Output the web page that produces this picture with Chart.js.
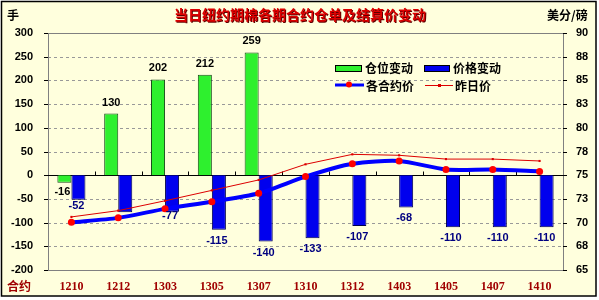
<!DOCTYPE html>
<html>
<head>
<meta charset="utf-8">
<script src="https://cdn.jsdelivr.net/npm/chart.js@4/dist/chart.umd.min.js"></script>
<style>
  body { margin: 0; background: #fff; }
</style>
</head>
<body>
<canvas id="c" width="599" height="300"></canvas>
<script>
const contracts = ['1210', '1212', '1303', '1305', '1307', '1310', '1312', '1403', '1405', '1407', '1410'];
const positionChange = [-16, 130, 202, 212, 259, null, null, null, null, null, null];
const priceChange = [-52, -78, -77, -115, -140, -133, -107, -68, -110, -110, -110];
const contractPrice = [70.03, 70.5, 71.45, 72.2, 73.1, 74.85, 76.2, 76.5, 75.6, 75.6, 75.4];
const prevPrice = [70.6, 71.26, 72.3, 73.4, 74.5, 76.15, 77.2, 77.1, 76.7, 76.7, 76.5];

const BG = '#FFFFDD';
const CJK = '"Noto Sans CJK SC", sans-serif';

// background, frame, grid, zero line
const framePlugin = {
  id: 'frame',
  beforeDraw(chart) {
    const ctx = chart.ctx;
    const a = chart.chartArea;
    ctx.save();
    ctx.fillStyle = '#fff';
    ctx.fillRect(0, 0, chart.width, chart.height);
    ctx.fillStyle = BG;
    ctx.fillRect(1, 1, 595, 295);
    ctx.strokeStyle = '#000';
    ctx.lineWidth = 1.5;
    ctx.strokeRect(1.5, 1.5, 594.5, 294.5);

    const y = chart.scales.y;
    ctx.strokeStyle = '#999';
    ctx.lineWidth = 1;
    ctx.setLineDash([3, 3]);
    y.ticks.forEach((t) => {
      if (t.value === 300 || t.value === -200 || t.value === 0) return;
      const py = Math.round(y.getPixelForValue(t.value)) + 0.5;
      ctx.beginPath();
      ctx.moveTo(a.left, py);
      ctx.lineTo(a.right, py);
      ctx.stroke();
    });
    ctx.setLineDash([]);
    ctx.strokeStyle = '#808080';
    ctx.strokeRect(Math.round(a.left) + 0.5, Math.round(a.top) + 0.5, Math.round(a.right - a.left), Math.round(a.bottom - a.top));

    // outer tick marks
    ctx.strokeStyle = '#000';
    y.ticks.forEach((t) => {
      const py = Math.round(y.getPixelForValue(t.value)) + 0.5;
      ctx.beginPath();
      ctx.moveTo(a.left - 4, py);
      ctx.lineTo(a.left, py);
      ctx.stroke();
    });
    const y1 = chart.scales.y1;
    y1.ticks.forEach((t) => {
      const py = Math.round(y1.getPixelForValue(t.value)) + 0.5;
      ctx.beginPath();
      ctx.moveTo(a.right, py);
      ctx.lineTo(a.right + 4, py);
      ctx.stroke();
    });
    ctx.restore();
  },
  beforeDatasetsDraw(chart) {
    const ctx = chart.ctx;
    const a = chart.chartArea;
    const y0 = Math.round(chart.scales.y.getPixelForValue(0)) + 0.5;
    const step = (a.right - a.left) / contracts.length;
    ctx.save();
    ctx.strokeStyle = '#000';
    ctx.lineWidth = 1;
    ctx.beginPath();
    ctx.moveTo(a.left, y0);
    ctx.lineTo(a.right, y0);
    for (let i = 1; i < contracts.length; i++) {
      const px = Math.round(a.left + step * i) + 0.5;
      ctx.moveTo(px, y0);
      ctx.lineTo(px, y0 - 4);
    }
    ctx.stroke();
    ctx.restore();
  },
};

// titles, unit labels, legend, bar value labels
const textPlugin = {
  id: 'texts',
  afterDatasetsDraw(chart) {
    const ctx = chart.ctx;
    ctx.save();
    ctx.textBaseline = 'middle';

    // bar labels
    ctx.font = 'bold 11px "Liberation Sans", sans-serif';
    ctx.textAlign = 'center';
    chart.getDatasetMeta(0).data.forEach((bar, i) => {
      const v = positionChange[i];
      if (v === null) return;
      ctx.fillStyle = '#000';
      if (v >= 0) ctx.fillText(String(v), bar.x, bar.y - 11);
      else ctx.fillText(String(v), bar.x - 2, bar.y + 9);
    });
    ctx.fillStyle = '#000080';
    chart.getDatasetMeta(1).data.forEach((bar, i) => {
      if (i === 1) return;
      let dy = 11;
      if (i === 0) dy = 6;
      if (i === 2) dy = 4;
      ctx.fillText(String(priceChange[i]), bar.x - 2, bar.y + dy);
    });

    // title
    ctx.font = 'bold 14px ' + CJK;
    ctx.fillStyle = '#600000';
    ctx.fillText('当日纽约期棉各期合约仓单及结算价变动', 301, 16);
    ctx.fillStyle = '#DD0000';
    ctx.fillText('当日纽约期棉各期合约仓单及结算价变动', 300, 15);

    ctx.fillStyle = '#000';
    ctx.font = 'bold 12px ' + CJK;
    ctx.textAlign = 'left';
    ctx.fillText('手', 7, 15);
    ctx.fillText('美分/磅', 547, 15);
    ctx.fillStyle = '#A00000';
    ctx.fillText('合约', 7, 286);

    // legend
    ctx.font = 'bold 12px ' + CJK;
    ctx.fillStyle = '#2EF02E';
    ctx.fillRect(335, 65, 26, 6);
    ctx.strokeStyle = '#000';
    ctx.lineWidth = 1;
    ctx.strokeRect(335.5, 65.5, 26, 6);
    ctx.fillStyle = '#0000EE';
    ctx.fillRect(424, 65, 25, 6);
    ctx.strokeRect(424.5, 65.5, 25, 6);
    ctx.fillStyle = '#000';
    ctx.fillText('仓位变动', 365, 68);
    ctx.fillText('价格变动', 453, 68);

    ctx.strokeStyle = '#0000FF';
    ctx.lineWidth = 3;
    ctx.beginPath();
    ctx.moveTo(335, 85);
    ctx.lineTo(364, 85);
    ctx.stroke();
    ctx.fillStyle = '#FF0000';
    ctx.beginPath();
    ctx.arc(349, 84.5, 3, 0, Math.PI * 2);
    ctx.fill();
    ctx.strokeStyle = '#DD0000';
    ctx.lineWidth = 1;
    ctx.beginPath();
    ctx.moveTo(425, 85.5);
    ctx.lineTo(453, 85.5);
    ctx.stroke();
    ctx.fillStyle = '#DD0000';
    ctx.fillRect(438, 84, 3, 3);
    ctx.fillStyle = '#000';
    ctx.fillText('各合约价', 366, 86);
    ctx.fillText('昨日价', 455, 86);

    ctx.restore();
  },
};

new Chart(document.getElementById('c'), {
  data: {
    labels: contracts,
    datasets: [
      {
        type: 'bar',
        label: '仓位变动',
        data: positionChange,
        yAxisID: 'y',
        backgroundColor: '#2EF02E',
        borderColor: '#1a4d1a',
        borderWidth: 1,
        categoryPercentage: 0.6,
        barPercentage: 1,
        order: 2,
      },
      {
        type: 'bar',
        label: '价格变动',
        data: priceChange,
        yAxisID: 'y',
        backgroundColor: '#0000EE',
        borderColor: '#00004d',
        borderWidth: 1,
        categoryPercentage: 0.6,
        barPercentage: 1,
        order: 2,
      },
      {
        type: 'line',
        label: '昨日价',
        data: prevPrice,
        yAxisID: 'y1',
        borderColor: '#DD0000',
        borderWidth: 1,
        pointStyle: 'rect',
        pointRadius: 1.5,
        pointBackgroundColor: '#DD0000',
        pointBorderWidth: 0,
        tension: 0,
        order: 1,
      },
      {
        type: 'line',
        label: '各合约价',
        data: contractPrice,
        yAxisID: 'y1',
        borderColor: '#0000FF',
        borderWidth: 4,
        pointRadius: 3.5,
        pointBackgroundColor: '#FF0000',
        pointBorderColor: '#FF0000',
        pointBorderWidth: 0,
        tension: 0.25,
        order: 0,
      },
    ],
  },
  options: {
    responsive: false,
    animation: false,
    layout: { padding: { top: 33, left: 0, right: 0, bottom: 0 } },
    plugins: {
      legend: { display: false },
      tooltip: { enabled: false },
    },
    scales: {
      x: {
        grid: { display: false },
        border: { display: false },
        ticks: {
          color: '#A00000',
          font: { family: '"Liberation Serif", serif', weight: 'bold', size: 12 },
          padding: 2,
          maxRotation: 0,
        },
        afterFit: (s) => { s.height = 30; },
      },
      y: {
        position: 'left',
        min: -200,
        max: 300,
        grid: { display: false },
        border: { display: false },
        ticks: {
          stepSize: 50,
          color: '#000',
          font: { family: '"Liberation Sans", sans-serif', weight: 'bold', size: 11 },
          padding: 7,
        },
        afterFit: (s) => { s.width = 48; },
      },
      y1: {
        position: 'right',
        min: 65,
        max: 90,
        grid: { display: false },
        border: { display: false },
        ticks: {
          stepSize: 2.5,
          color: '#000',
          font: { family: '"Liberation Sans", sans-serif', weight: 'bold', size: 11 },
          padding: 5,
          callback: (v) => Math.round(v),
        },
        afterFit: (s) => { s.width = 36; },
      },
    },
  },
  plugins: [framePlugin, textPlugin],
});
</script>
</body>
</html>
